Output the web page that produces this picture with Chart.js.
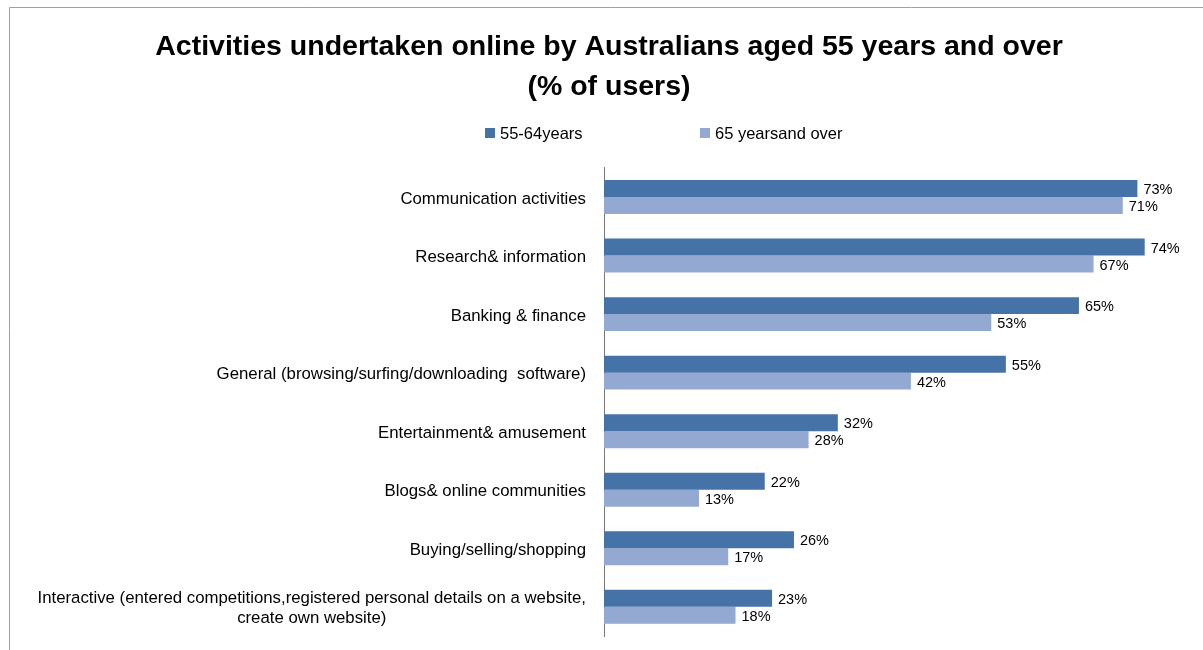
<!DOCTYPE html>
<html>
<head>
<meta charset="utf-8">
<script src="https://cdn.jsdelivr.net/npm/chart.js@4/dist/chart.umd.min.js"></script>
<style>
  html, body { margin: 0; padding: 0; background: #fff; overflow: hidden; }
  #wrap { position: absolute; left: 0; top: 0; width: 1212px; height: 650px; }
</style>
</head>
<body>
<div id="wrap"><canvas id="myChart"></canvas></div>
<script>
// values
var categories = [
  "Communication activities",
  "Research& information",
  "Banking & finance",
  "General (browsing/surfing/downloading  software)",
  "Entertainment& amusement",
  "Blogs& online communities",
  "Buying/selling/shopping",
  ["Interactive (entered competitions,registered personal details on a website,", "create own website)"]
];
var age55to64 = [73, 74, 65, 55, 32, 22, 26, 23];
var age65plus = [71, 67, 53, 42, 28, 13, 17, 18];

var FONT = "'Liberation Sans', Arial, sans-serif";

// grey frame of the original chart box (top and left edges only, rest is cropped)
var framePlugin = {
  id: "frame",
  beforeDraw: function (chart) {
    var ctx = chart.ctx;
    ctx.save();
    ctx.strokeStyle = "#a0a0a0";
    ctx.lineWidth = 1;
    ctx.beginPath();
    ctx.moveTo(9.5, chart.height);
    ctx.lineTo(9.5, 7.5);
    ctx.lineTo(chart.width, 7.5);
    ctx.stroke();
    ctx.restore();
  }
};

// category labels: right-aligned block, each line centred inside it
var labelPlugin = {
  id: "catLabels",
  afterDraw: function (chart) {
    var ctx = chart.ctx;
    var y = chart.scales.y;
    var right = y.right - 18;
    ctx.save();
    ctx.font = "16.8px " + FONT;
    ctx.fillStyle = "#000";
    ctx.textBaseline = "middle";
    ctx.textAlign = "center";
    chart.data.labels.forEach(function (lab, i) {
      var lines = Array.isArray(lab) ? lab : [lab];
      var w = 0;
      lines.forEach(function (l) { w = Math.max(w, ctx.measureText(l).width); });
      var cy = y.getPixelForValue(i) + 2;
      var lh = 20;
      var top = cy - (lines.length - 1) * lh / 2;
      lines.forEach(function (l, k) {
        ctx.fillText(l, right - w / 2, top + k * lh);
      });
    });
    ctx.restore();
  }
};

// value labels at bar ends
var valuePlugin = {
  id: "values",
  afterDatasetsDraw: function (chart) {
    var ctx = chart.ctx;
    ctx.save();
    ctx.font = "14.5px " + FONT;
    ctx.fillStyle = "#000";
    ctx.textBaseline = "middle";
    ctx.textAlign = "left";
    chart.data.datasets.forEach(function (ds, di) {
      chart.getDatasetMeta(di).data.forEach(function (bar, i) {
        ctx.fillText(ds.data[i] + "%", bar.x + 6, bar.y + 1.5);
      });
    });
    ctx.restore();
  }
};

// legend like the original (offset from centre)
var legendPlugin = {
  id: "customLegend",
  afterDraw: function (chart) {
    var ctx = chart.ctx;
    var xs = [485, 700];
    ctx.save();
    ctx.font = "16.5px " + FONT;
    ctx.textBaseline = "middle";
    ctx.textAlign = "left";
    chart.data.datasets.forEach(function (ds, i) {
      ctx.fillStyle = ds.backgroundColor;
      ctx.fillRect(xs[i], 128, 10, 10);
      ctx.fillStyle = "#000";
      ctx.fillText(ds.label, xs[i] + 15, 134);
    });
    ctx.restore();
  }
};

const data = {
  labels: categories,
  datasets: [
    {
      label: "55-64years",
      backgroundColor: "#4573a7",
      data: age55to64,
      categoryPercentage: 0.58,
      barPercentage: 1.0
    },
    {
      label: "65 yearsand over",
      backgroundColor: "#94a9d2",
      data: age65plus,
      categoryPercentage: 0.58,
      barPercentage: 1.0
    }
  ]
};

const config = {
  type: "bar",
  data: data,
  options: {
    indexAxis: "y",
    responsive: true,
    maintainAspectRatio: false,
    animation: false,
    layout: { padding: { left: 9, right: 3, bottom: 14, top: 0 } },
    plugins: {
      legend: { display: false },
      tooltip: { enabled: false },
      title: {
        display: true,
        text: ["Activities undertaken online by Australians aged 55 years and over", "(% of users)"],
        color: "#000",
        font: { family: FONT, size: 28.5, weight: "bold", lineHeight: 1.4 },
        padding: { top: 27, bottom: 61 }
      }
    },
    scales: {
      x: { display: false, min: 0, max: 82.8 },
      y: {
        grid: { display: false, drawTicks: false },
        border: { display: true, color: "#777", width: 1 },
        ticks: { display: false },
        afterFit: function (s) { s.width = 595; }
      }
    }
  },
  plugins: [framePlugin, labelPlugin, valuePlugin, legendPlugin]
};

const myChart = new Chart(document.getElementById("myChart"), config);
</script>
</body>
</html>
